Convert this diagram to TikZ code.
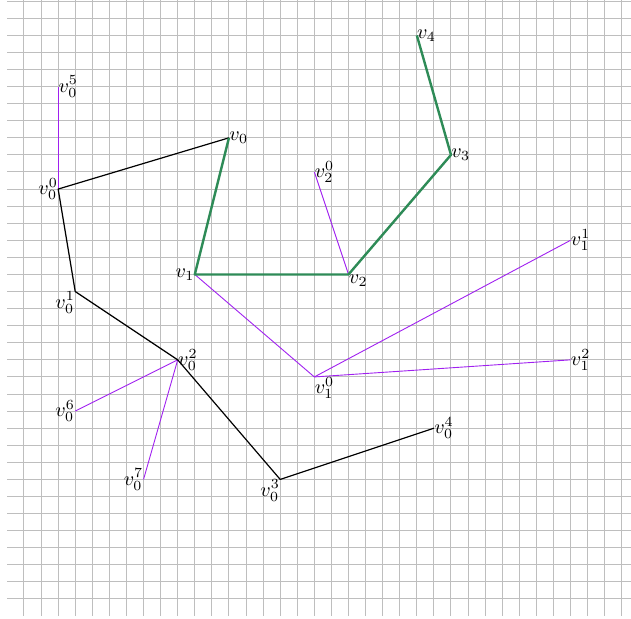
\documentclass[tikz,border=0pt]{standalone}
\usepackage{tikz}
\usetikzlibrary{positioning}
\definecolor{PathGreen}{RGB}{46,139,87}
\definecolor{TreeViolet}{RGB}{160,32,240}
\definecolor{GridGray}{RGB}{190,190,190}
\tikzset{
    % Line styles
    grid line/.style={
        draw=GridGray,
        line width=0.5pt
    },
    main path/.style={
        draw=PathGreen,
        line width=1.2pt,
        line join=round
    },
    backbone/.style={
        draw=black,
        line width=0.6pt,
        line join=round
    },
    branch/.style={
        draw=TreeViolet,
        line width=0.45pt
    },
    % Labels sit right on their point
    vertex label/.style={
        inner sep=0pt
    }
}

\begin{document}
\begin{tikzpicture}[x=0.3cm, y=0.3cm]
        \useasboundingbox (-1.405,-1.171) rectangle (35.54,35.07);
        \draw[grid line, step=1] (-0.98,-0.98) grid (35.54,35.07);

        % Main path points
        \coordinate (v0) at (12,27);
        \coordinate (v1) at (10,19);
        \coordinate (v2) at (19,19);
        \coordinate (v3) at (25,26);
        \coordinate (v4) at (23,33);

        % Points hanging off v0
        \coordinate (v00) at (2,24);
        \coordinate (v01) at (3,18);
        \coordinate (v02) at (9,14);
        \coordinate (v03) at (15,7);
        \coordinate (v04) at (24,10);
        \coordinate (v05) at (2,30);
        \coordinate (v06) at (3,11);
        \coordinate (v07) at (7,7);

        % Points hanging off v1 and v2
        \coordinate (v10) at (17,13);
        \coordinate (v11) at (32,21);
        \coordinate (v12) at (32,14);
        \coordinate (v20) at (17,25);

        % Branches
        \draw[branch] (v00) -- (v05);
        \draw[branch] (v02) -- (v06);
        \draw[branch] (v02) -- (v07);
        \draw[branch] (v1) -- (v10);
        \draw[branch] (v10) -- (v11);
        \draw[branch] (v10) -- (v12);
        \draw[branch] (v2) -- (v20);

        % Backbone from v0
        \draw[backbone] (v0) -- (v00) -- (v01) -- (v02) -- (v03) -- (v04);

        % Main path
        \draw[main path] (v0) -- (v1) -- (v2) -- (v3) -- (v4);

        % Labels
        \node[vertex label, right] (v0 label) at (v0) {$v_0$};
        \node[vertex label, left] (v1 label) at (v1) {$v_1$};
        \node[vertex label, below right] (v2 label) at (v2) {$v_2$};
        \node[vertex label, right] (v3 label) at (v3) {$v_3$};
        \node[vertex label, right] (v4 label) at (v4) {$v_4$};
        \node[vertex label, left] (v00 label) at (v00) {$v_0^0$};
        \node[vertex label, below left] (v01 label) at (v01) {$v_0^1$};
        \node[vertex label, right] (v02 label) at (v02) {$v_0^2$};
        \node[vertex label, below left] (v03 label) at (v03) {$v_0^3$};
        \node[vertex label, right] (v04 label) at (v04) {$v_0^4$};
        \node[vertex label, right] (v05 label) at (v05) {$v_0^5$};
        \node[vertex label, left] (v06 label) at (v06) {$v_0^6$};
        \node[vertex label, left] (v07 label) at (v07) {$v_0^7$};
        \node[vertex label, below right] (v10 label) at (v10) {$v_1^0$};
        \node[vertex label, right] (v11 label) at (v11) {$v_1^1$};
        \node[vertex label, right] (v12 label) at (v12) {$v_1^2$};
        \node[vertex label, right] (v20 label) at (v20) {$v_2^0$};
\end{tikzpicture}
\end{document}
